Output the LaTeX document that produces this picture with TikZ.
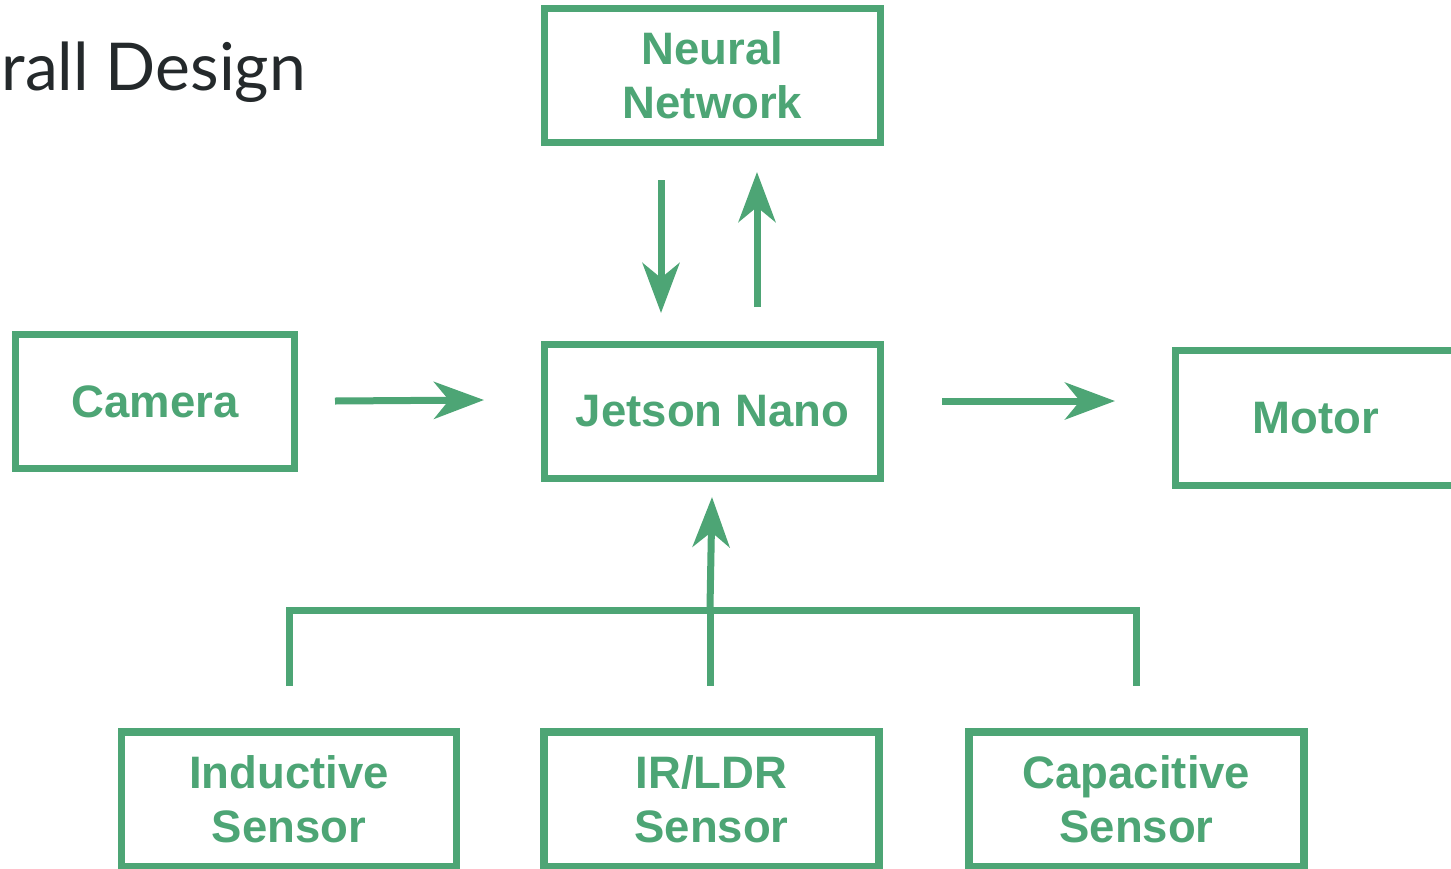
\documentclass[tikz,border=0pt]{standalone}
\usepackage{fontspec}
\setmainfont{Liberation Sans}
\newfontfamily\titlefont{Lato}
\usetikzlibrary{arrows.meta}
\definecolor{grn}{HTML}{4DA575}
\definecolor{ttl}{HTML}{24292B}
\begin{document}
\begin{tikzpicture}[x=1pt,y=-1pt,
  box/.style={draw=grn, line width=7.5pt, text=grn, font=\fontsize{45.5}{54}\selectfont\bfseries, align=center, inner sep=0pt},
  arr/.style={draw=grn, line width=7pt, -{Stealth[length=50pt,width=37pt,inset=15pt]}},
  wire/.style={draw=grn, line width=7pt}]
\useasboundingbox (0,0) rectangle (1451,868);
\node[anchor=base west, text=ttl, font=\titlefont\fontsize{66}{72}\selectfont] (title) at (-2,90) {rall Design};
\node[box, minimum width=336pt, minimum height=134pt] (nn) at (712.5,75.5) {Neural\\Network};
\node[box, minimum width=279pt, minimum height=134pt] (cam) at (155,401.5) {Camera};
\node[box, minimum width=336pt, minimum height=134pt] (jn) at (712.5,411.5) {Jetson Nano};
\node[box, minimum width=281pt, minimum height=135pt] (mot) at (1316,418) {Motor};
\node[box, minimum width=335pt, minimum height=135pt] (ind) at (289,799.5) {Inductive\\Sensor};
\node[box, minimum width=335pt, minimum height=135pt] (ir) at (711.5,799.5) {IR/LDR\\Sensor};
\node[box, minimum width=335pt, minimum height=135pt] (cap) at (1136.5,799.5) {Capacitive\\Sensor};
% arrow end coordinates
\coordinate (camA) at (335,401);
\coordinate (camB) at (484,400);
\coordinate (dnA) at (661,180);
\coordinate (dnB) at (661,313);
\coordinate (upA) at (757,307);
\coordinate (upB) at (757,172);
\coordinate (motA) at (942,401);
\coordinate (motB) at (1115,401);
\coordinate (senA) at (710,607);
\coordinate (senB) at (712,497);
\coordinate (busL) at (289,610);
\coordinate (busR) at (1136,610);
\coordinate (busM) at (710,610);
\coordinate (indT) at (289,686);
\coordinate (irT) at (710,686);
\coordinate (capT) at (1136,686);
\draw[arr] (camA) -- (camB);
\draw[arr] (dnA) -- (dnB);
\draw[arr] (upA) -- (upB);
\draw[arr] (motA) -- (motB);
\draw[arr] (senA) -- (senB);
\draw[wire] (indT) -- (busL) -- (busR) -- (capT);
\draw[wire] (busM) -- (irT);
\end{tikzpicture}
\end{document}
